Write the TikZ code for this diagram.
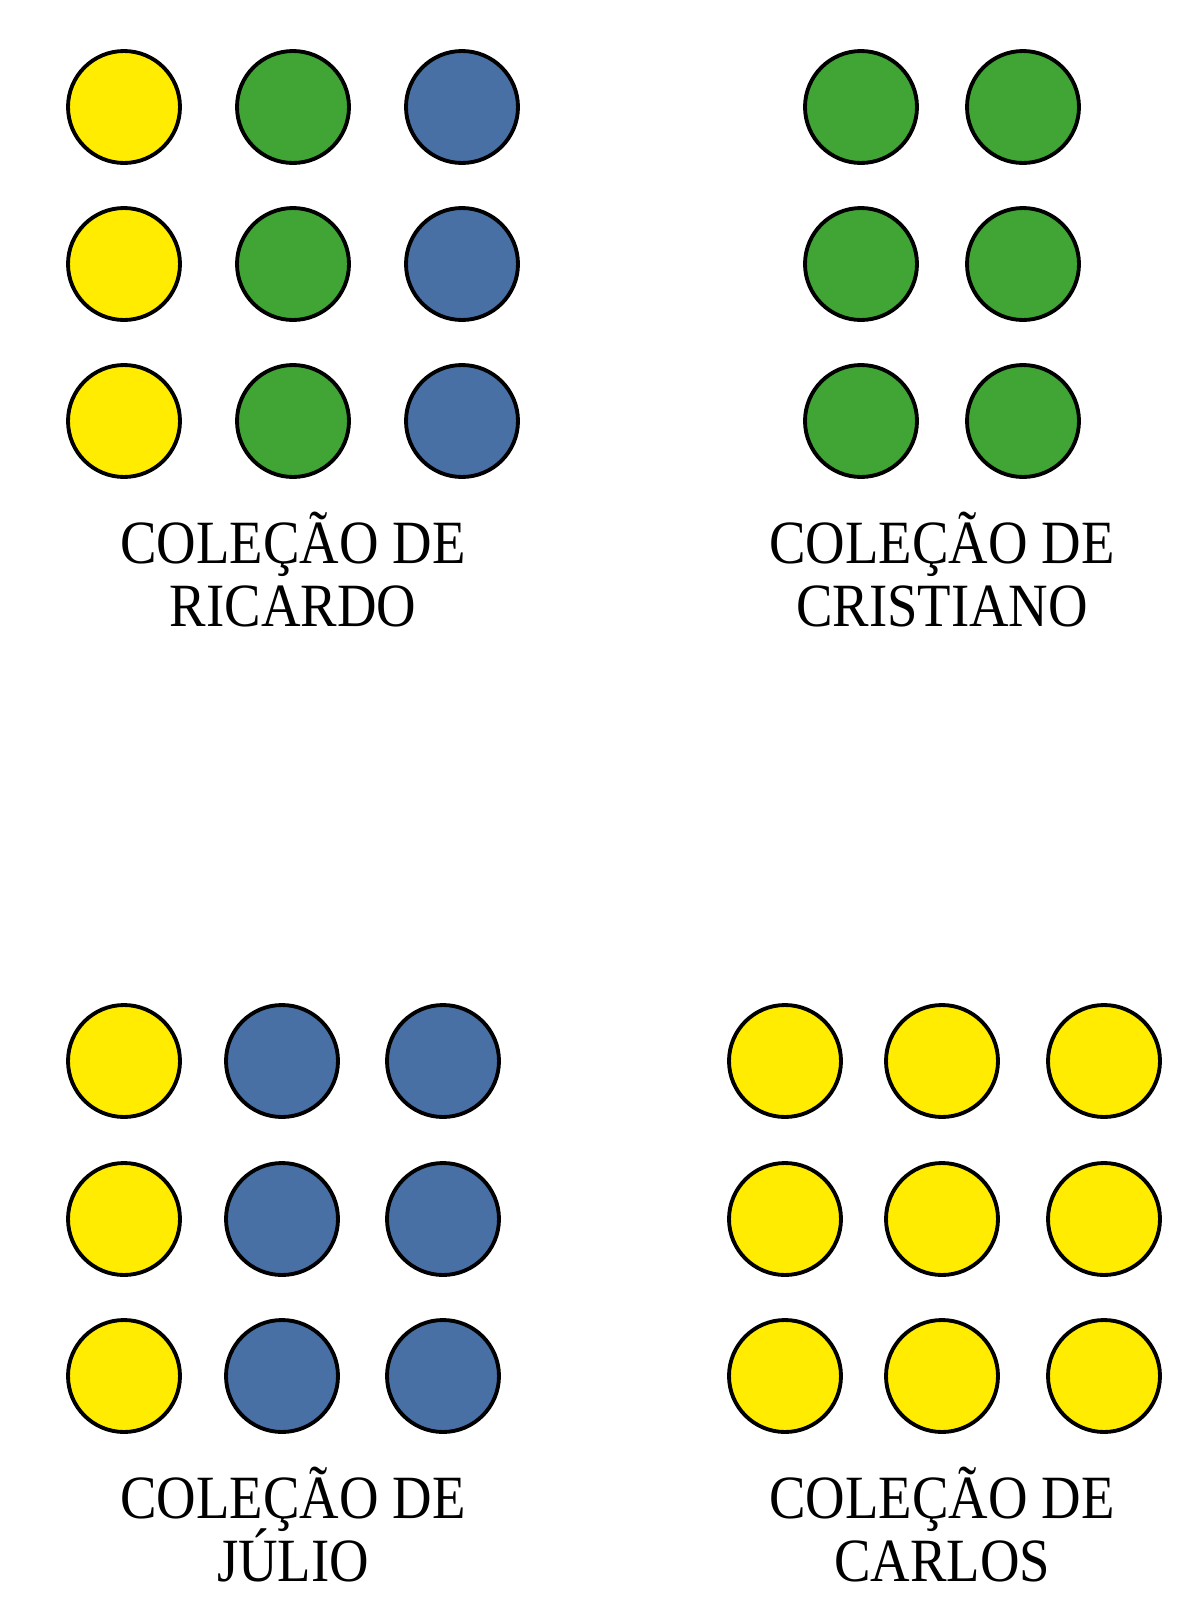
\documentclass[tikz,border=0pt]{standalone}
\usepackage{fontspec}
\setmainfont{Liberation Serif}[FakeStretch=0.89]
\setlength{\lineskiplimit}{-50pt}
\definecolor{ballyellow}{HTML}{FFEC00}
\definecolor{ballgreen}{HTML}{40A535}
\definecolor{ballblue}{HTML}{4870A5}
\tikzset{
  ball/.style={circle,draw=black,line width=2.2pt,minimum size=2.24cm,inner sep=0pt},
  collabel/.style={align=center,anchor=base,inner sep=0pt}
}
\begin{document}
\begin{tikzpicture}[x=0.02cm,y=-0.02cm,font=\fontsize{35}{35.5}\selectfont]
  \useasboundingbox (0,0) rectangle (1199,1623);
  % Ricardo
  \foreach \r/\y in {1/107,2/264,3/421}{
    \node[ball,fill=ballyellow] (ric\r a) at (124,\y) {};
    \node[ball,fill=ballgreen]  (ric\r b) at (293,\y) {};
    \node[ball,fill=ballblue]   (ric\r c) at (462,\y) {};
  }
  \node[collabel] (ricardo) at (293,626) {COLEÇÃO DE\\RICARDO};
  % Cristiano
  \foreach \r/\y in {1/107,2/264,3/421}{
    \node[ball,fill=ballgreen] (cri\r a) at (861,\y) {};
    \node[ball,fill=ballgreen] (cri\r b) at (1023,\y) {};
  }
  \node[collabel] (cristiano) at (942,626) {COLEÇÃO DE\\CRISTIANO};
  % Julio
  \foreach \r/\y in {1/1061,2/1219,3/1376}{
    \node[ball,fill=ballyellow] (jul\r a) at (124,\y) {};
    \node[ball,fill=ballblue]   (jul\r b) at (282,\y) {};
    \node[ball,fill=ballblue]   (jul\r c) at (443,\y) {};
  }
  \node[collabel] (julio) at (293,1581) {COLEÇÃO DE\\JÚLIO};
  % Carlos
  \foreach \r/\y in {1/1061,2/1219,3/1376}{
    \foreach \c/\x in {a/785,b/942,c/1104}
      \node[ball,fill=ballyellow] (car\r\c) at (\x,\y) {};
  }
  \node[collabel] (carlos) at (942,1581) {COLEÇÃO DE\\CARLOS};
\end{tikzpicture}
\end{document}
